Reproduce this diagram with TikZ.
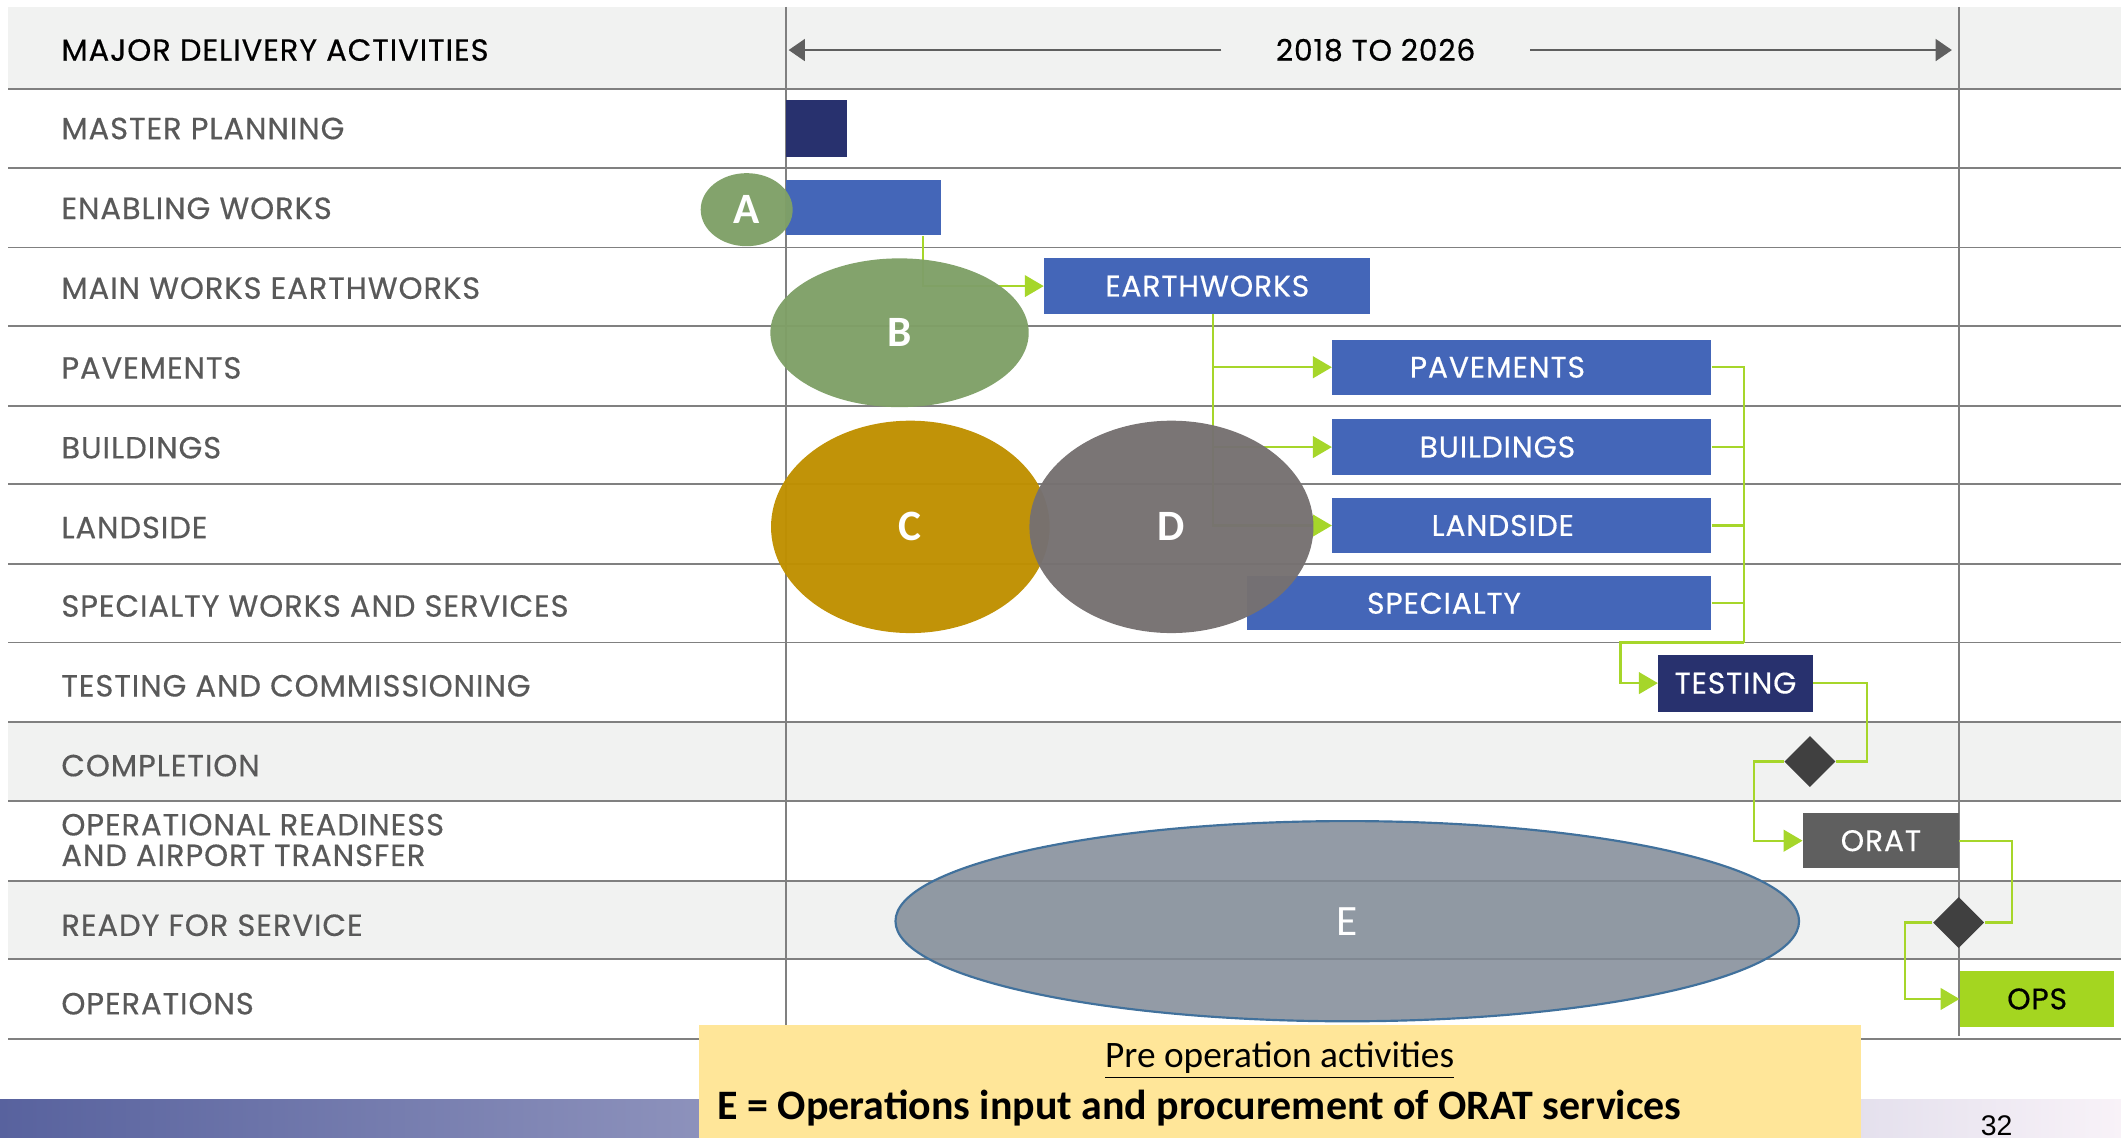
\documentclass[tikz,border=0pt]{standalone}
\usepackage{fontspec}
\usepackage{tikz}
\usetikzlibrary{arrows.meta,shapes.geometric}

\newfontfamily\gth{Poppins}[FakeBold=0.4, LetterSpace=3]
\newfontfamily\carl{Carlito}
\newfontfamily\arl{Liberation Sans}

\definecolor{navy}{RGB}{40,49,110}
\definecolor{barblue}{RGB}{68,102,184}
\definecolor{leaf}{RGB}{127,160,103}
\definecolor{gold}{RGB}{191,144,0}
\definecolor{stone}{RGB}{118,113,113}
\definecolor{slate}{RGB}{128,138,150}
\definecolor{edgeblue}{RGB}{65,113,156}
\definecolor{oratgray}{RGB}{95,95,95}
\definecolor{opsgreen}{RGB}{164,214,32}
\definecolor{link}{RGB}{166,214,42}
\definecolor{band}{RGB}{241,242,241}
\definecolor{rule}{RGB}{128,128,128}
\definecolor{labelgray}{RGB}{89,89,89}
\definecolor{note}{RGB}{255,230,153}
\definecolor{mile}{RGB}{64,64,64}

\begin{document}
\begin{tikzpicture}[x=0.5pt,y=-0.5pt]
\useasboundingbox (0,0) rectangle (1568,841);

\fill[band] (6,5) rectangle (1568,66);
\fill[band] (6,534) rectangle (1568,592);
\fill[band] (6,651) rectangle (1568,709);
\shade[left color={rgb,255:red,88;green,98;blue,158}, right color={rgb,255:red,248;green,242;blue,248}] (0,813) rectangle (1568,841);

\foreach \y in {66,124,183,241,300,358,417,475,534,592,651,709,768}
    \draw[rule, line width=0.7pt] (6,\y) -- (1568,\y);
\draw[rule, line width=0.7pt] (581,5) -- (581,768);
\draw[rule, line width=0.7pt] (1448,5) -- (1448,766);

\begin{scope}[every node/.style={anchor=west, inner sep=0, text=labelgray, font=\gth\fontsize{11.3}{11.3}\selectfont}]
    \node[text=black] (hd) at (45,37) {MAJOR DELIVERY ACTIVITIES};
    \node (lmp) at (45,95) {MASTER PLANNING};
    \node (len) at (45,154) {ENABLING WORKS};
    \node (lew) at (45,213) {MAIN WORKS EARTHWORKS};
    \node (lpv) at (45,272) {PAVEMENTS};
    \node (lbd) at (45,331) {BUILDINGS};
    \node (lls) at (45,390) {LANDSIDE};
    \node (lsp) at (45,448) {SPECIALTY WORKS AND SERVICES};
    \node (lts) at (45,507) {TESTING AND COMMISSIONING};
    \node (lcp) at (45,566) {COMPLETION};
    \node[align=left] (lor) at (45,621) {OPERATIONAL READINESS\\AND AIRPORT TRANSFER};
    \node (lrf) at (45,684) {READY FOR SERVICE};
    \node (lop) at (45,742) {OPERATIONS};
\end{scope}

\node[font=\gth\fontsize{11}{11}\selectfont, inner xsep=20pt] (yr) at (1017,37) {2018 TO 2026};
\coordinate (ys) at (583,37);
\coordinate (ye) at (1443,37);
\begin{scope}[>={Triangle[length=6pt,width=8pt]}, every path/.style={draw=oratgray, line width=1pt}]
    \draw[->] (yr.west) -- (ys);
    \draw[->] (yr.east) -- (ye);
\end{scope}

\begin{scope}[every node/.style={minimum height=20.5pt, inner sep=0, text=white, fill=barblue, font=\gth\fontsize{11}{11}\selectfont}]
    \node[fill=navy, minimum width=22.5pt, minimum height=21pt] (mp) at (603.5,95) {};
    \node[minimum width=57.5pt] (en) at (638.5,153.5) {};
    \node[minimum width=120.5pt] (ew) at (892.5,211.5) {EARTHWORKS};
    \node[minimum width=140pt] (pv) at (1125,271.5) {\hspace*{-18pt}PAVEMENTS};
    \node[minimum width=140pt] (bd) at (1125,330.5) {\hspace*{-18pt}BUILDINGS};
    \node[minimum width=140pt] (ls) at (1125,388.5) {\hspace*{-14pt}LANDSIDE};
    \node[minimum width=171.5pt, minimum height=20pt] (sp) at (1093.5,446) {\hspace*{-26pt}SPECIALTY};
    \node[fill=navy, minimum width=57pt, minimum height=21pt] (ts) at (1283,505) {TESTING};
    \node[fill=oratgray, minimum width=57.5pt] (ora) at (1390.5,621.5) {ORAT};
    \node[fill=opsgreen, text=black, minimum width=57pt] (ops) at (1506,738.5) {OPS};
\end{scope}

\begin{scope}[every node/.style={diamond, fill=mile, inner sep=0, minimum width=19pt, minimum height=19pt}]
    \node (dm1) at (1338,563) {};
    \node (dm2) at (1448,682) {};
\end{scope}

\coordinate (j1) at (1289,475);
\coordinate (j2) at (1198,475);
\begin{scope}[>={Triangle[length=7pt,width=8pt]}, every path/.style={draw=link, line width=0.8pt}]
    \draw[->] ([xshift=-7pt]en.south east) |- (ew.west);
    \draw[->] ([xshift=2pt]ew.south) |- (pv.west);
    \draw[->] ([xshift=2pt]ew.south) |- (bd.west);
    \draw[->] ([xshift=2pt]ew.south) |- (ls.west);
    \draw (pv.east) -| (j1);
    \draw (bd.east) -| (j1);
    \draw (ls.east) -| (j1);
    \draw (sp.east) -| (j1);
    \draw[->] (j1) -- (j2) |- (ts.west);
    \draw (ts.east) -- ++(40,0) |- (dm1.east);
    \draw[->] (dm1.west) -- ++(-22,0) |- (ora.west);
    \draw (ora.east) -- ++(39,0) |- (dm2.east);
    \draw[->] (dm2.west) -- ++(-20,0) |- (ops.west);
\end{scope}

\begin{scope}[every node/.style={ellipse, inner sep=0, text=white, fill opacity=0.97, text opacity=1, font=\carl\bfseries\fontsize{16}{16}\selectfont}]
    \node[fill=leaf, minimum width=34pt, minimum height=27pt] (a) at (552,155) {A};
    \node[fill=leaf, minimum width=95.5pt, minimum height=55pt] (b) at (665,246) {B};
    \node[fill=gold, minimum width=103pt, minimum height=78.5pt] (c) at (673,389.5) {C};
    \node[fill=stone, minimum width=105pt, minimum height=78.5pt] (d) at (866,389.5) {D};
    \node[fill=slate, fill opacity=0.85, draw=edgeblue, line width=0.8pt, font=\carl\fontsize{16}{16}\selectfont, minimum width=334pt, minimum height=74pt] (e) at (996,681) {E};
\end{scope}

\fill[note] (517,758) rectangle (1376,841);
\node[font=\carl\fontsize{13.8}{13.8}\selectfont] (pre) at (946,784) {\underline{Pre operation activities}};
\node[anchor=west, inner sep=0, font=\carl\bfseries\fontsize{15.5}{15.5}\selectfont] (def) at (530,819) {E = Operations input and procurement of ORAT services};
\node[font=\arl\fontsize{10.5}{10.5}\selectfont] (pg) at (1476,832) {32};
\end{tikzpicture}
\end{document}
